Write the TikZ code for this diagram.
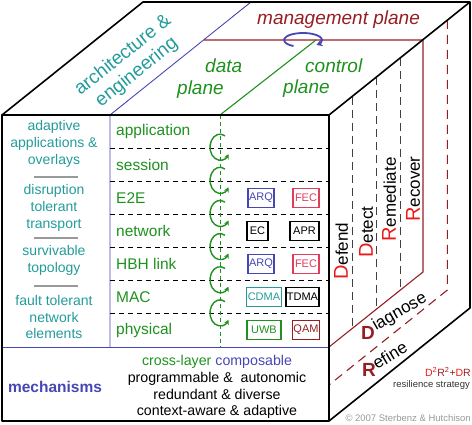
\documentclass[tikz,border=0pt]{standalone}
\usepackage{fontspec}
\setmainfont{Liberation Sans}
\usetikzlibrary{arrows.meta}

\definecolor{tealtxt}{RGB}{35,155,155}
\definecolor{grn}{RGB}{30,145,30}
\definecolor{blu}{RGB}{70,70,180}
\definecolor{mgmt}{RGB}{150,30,35}
\definecolor{crim}{RGB}{225,60,90}
\definecolor{redD}{RGB}{235,25,25}

\tikzset{
  layerbox/.style={draw, line width=1.3pt, inner xsep=1pt, inner ysep=0pt,
    minimum height=19pt, text=blu, font=\fontsize{11}{11}\selectfont},
  layername/.style={grn, anchor=west, inner sep=1pt, font=\fontsize{15.5}{16}\selectfont},
  leftcol/.style={tealtxt, align=center, font=\fontsize{14}{16.8}\selectfont},
  strat/.style={rotate=90, anchor=west, inner sep=0pt, font=\fontsize{17}{17}\selectfont},
  planetxt/.style={anchor=base west, inner sep=0pt, font=\fontsize{19}{19}\selectfont\itshape},
  cubeline/.style={line width=1.6pt, line join=round}
}

\begin{document}
\begin{tikzpicture}[x=1pt, y=-1pt]
    \useasboundingbox (0,0) rectangle (472,425);

    % Cube corners
    \coordinate (ftl) at (2,115);
    \coordinate (ftr) at (329,115);
    \coordinate (fbl) at (2,421);
    \coordinate (fbr) at (329,421);
    \coordinate (btl) at (143,2);
    \coordinate (btr) at (470,2);
    \coordinate (bbr) at (470,308);

    % Blue dividers (architecture / mechanisms)
    \draw[blu, line width=0.9pt] (2,347) -- (329,347);
    \draw[blu, line width=0.9pt] (110,347) -- (110,115) -- (251,2);

    % Left column separators
    \foreach \y in {177,238,286}
        \draw[gray!80, line width=1.6pt] (34,\y) -- (78,\y);

    % Layer rows
    \foreach \i in {1,...,6}
        \draw[dash pattern=on 5pt off 4pt, line width=0.9pt] (110,{115+33.14*\i}) -- (329,{115+33.14*\i});

    % Management plane (solid) and refine (dashed)
    \draw[mgmt, line width=1.1pt] (204,40) -- (423,40) -- (423,272) -- (329,347);
    \draw[mgmt, line width=1.1pt, dash pattern=on 9pt off 6pt] (447.4,20) -- (447.4,290) -- (329,385);

    % Strategy separators on the right face
    \draw[black!75, line width=1pt, dash pattern=on 8pt off 5pt] (352,96.6) -- (352,328.6);
    \draw[black!75, line width=1pt, dash pattern=on 8pt off 5pt] (376,77.3) -- (376,309.3);
    \draw[black!75, line width=1pt, dash pattern=on 8pt off 5pt] (400,58.1) -- (400,290.1);

    % Data / control plane
    \coordinate (cp) at (316,40);
    \draw[grn, line width=1.1pt] (220,115) -- (cp);
    \draw[grn, line width=1pt, dash pattern=on 4pt off 3pt] (220,115) -- (220,347);
    \foreach \i in {1,...,6}
        \draw[grn, line width=1.4pt, -{Stealth[length=5pt,width=5pt]}]
            ([shift={(60:10pt and 13pt)}]220,{114+33.14*\i}) arc[start angle=60, delta angle=268, x radius=10pt, y radius=13pt];

    % Management loop
    \draw[blu, line width=1.8pt, -{Stealth[length=6pt,width=7pt]}]
        ([shift={(240:19pt and 7pt)}]303,40) arc[start angle=240, delta angle=-285, x radius=19pt, y radius=7pt];

    % Cube outline
    \draw[cubeline] (ftl) rectangle (fbr);
    \draw[cubeline] (ftl) -- (btl) -- (btr) -- (bbr) -- (fbr);
    \draw[cubeline] (ftr) -- (btr);

    % Top face labels
    \node[tealtxt, rotate=38.7, align=center, font=\fontsize{19}{22}\selectfont] (arch) at (130,64) {architecture \&\\engineering};
    \node[planetxt, grn] (data) at (205,73) {data};
    \node[planetxt, grn] (dplane) at (177,95) {plane};
    \node[planetxt, grn] (control) at (305,73) {control};
    \node[planetxt, grn] (cplane) at (283,94) {plane};
    \node[planetxt, mgmt] (mplane) at (257,25) {management plane};

    % Left column
    \node[leftcol] (adapt) at (54,144) {adaptive\\applications \&\\overlays};
    \node[leftcol] (disrupt) at (54,208) {disruption\\tolerant\\transport};
    \node[leftcol] (surv) at (54,260) {survivable\\topology};
    \node[leftcol] (fault) at (54,317) {fault tolerant\\network\\elements};

    % Layer names
    \foreach \name [count=\i from 0] in {application,session,E2E,network,HBH link,MAC,physical}
        \node[layername] (layer\i) at (115,{115+33.14*\i+16.57}) {\name};

    % Mechanism boxes
    \node[layerbox, blu, minimum width=26pt] (arq1) at (261,198) {ARQ};
    \node[layerbox, crim, minimum width=26pt] (fec1) at (306,198) {FEC};
    \node[layerbox, black, minimum width=21pt] (ec) at (257.5,231) {EC};
    \node[layerbox, black, minimum width=29pt] (apr) at (304.5,231) {APR};
    \node[layerbox, blu, minimum width=26pt] (arq2) at (261,264) {ARQ};
    \node[layerbox, crim, minimum width=26pt] (fec2) at (306,264) {FEC};
    \node[layerbox, tealtxt, minimum width=34pt] (cdma) at (264,297) {CDMA};
    \node[layerbox, black, minimum width=33pt] (tdma) at (302.5,297) {TDMA};
    \node[layerbox, grn, minimum width=34pt] (uwb) at (264,330) {UWB};
    \node[layerbox, mgmt, minimum width=26pt] (qam) at (306,330) {QAM};

    % Mechanisms
    \node[blu, font=\bfseries\fontsize{15.5}{16}\selectfont] (mech) at (55,387) {mechanisms};
    \node[align=center, font=\fontsize{14.2}{16.7}\selectfont] (mlist) at (217,387)
        {\textcolor{grn}{cross-layer} \textcolor{blu}{composable}\\programmable \&~ autonomic\\redundant \& diverse\\context-aware \& adaptive};

    % Strategy
    \node[strat] (defend) at (341,280) {\textcolor{redD}{\fontsize{20}{20}\selectfont D}efend};
    \node[strat] (detect) at (366,258) {\textcolor{redD}{\fontsize{20}{20}\selectfont D}etect};
    \node[strat] (remed) at (389,242) {\textcolor{redD}{\fontsize{20}{20}\selectfont R}emediate};
    \node[strat] (recover) at (413,222) {\textcolor{redD}{\fontsize{20}{20}\selectfont R}ecover};
    \node[mgmt, anchor=base, inner sep=0pt, font=\bfseries\fontsize{19}{19}\selectfont] (diagD) at (368,339) {D};
    \node[rotate=30, anchor=base west, inner sep=0pt, font=\fontsize{17}{17}\selectfont] (diag) at (376,331) {iagnose};
    \node[mgmt, anchor=base, inner sep=0pt, font=\bfseries\fontsize{19}{19}\selectfont] (refR) at (369,377) {R};
    \node[rotate=31, anchor=base west, inner sep=0pt, font=\fontsize{17}{17}\selectfont] (refine) at (377,370) {efine};

    % Legend
    \node[anchor=base east, inner sep=0pt, font=\fontsize{10.5}{11}\selectfont] (d2r2) at (471,376)
        {\textcolor{redD}{D\textsuperscript{2}}\textcolor{mgmt}{R\textsuperscript{2}+}\textcolor{redD}{D}\textcolor{mgmt}{R}};
    \node[anchor=base east, inner sep=0pt, black!80, font=\fontsize{9.5}{10}\selectfont] (resil) at (470,388) {resilience strategy};
    \node[anchor=base east, inner sep=0pt, gray!80, font=\fontsize{9.5}{10}\selectfont] (copy) at (471,421) {© 2007 Sterbenz \& Hutchison};
\end{tikzpicture}
\end{document}
